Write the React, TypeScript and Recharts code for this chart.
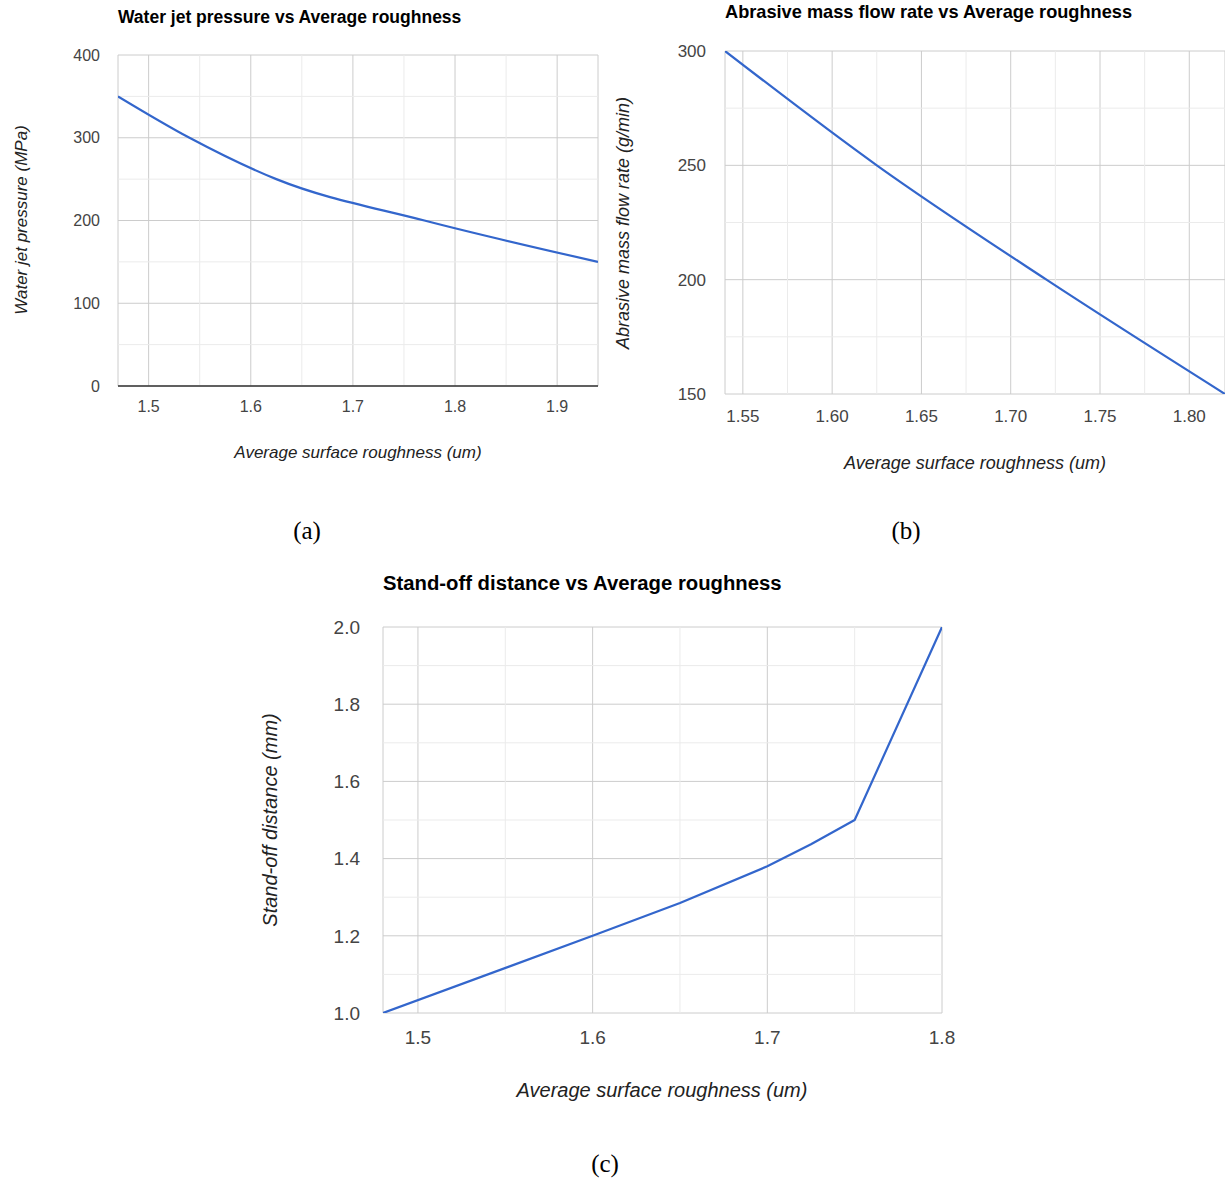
import React from "react";
import { CartesianGrid, Line, LineChart, ReferenceLine, XAxis, YAxis } from "recharts";

// (a) water jet pressure
const pressureRoughness = [1.47, 1.54, 1.625, 1.77, 1.94];
const pressureValues = [350, 300, 250, 200, 150];
const pressureXTicks = [1.5, 1.6, 1.7, 1.8, 1.9];
const pressureXMinor = [1.55, 1.65, 1.75, 1.85];
const pressureYTicks = [0, 100, 200, 300, 400];
const pressureYMinor = [50, 150, 250, 350];

// (b) abrasive mass flow rate
const abrasiveRoughness = [1.54, 1.625, 1.72, 1.82];
const abrasiveValues = [300, 250, 200, 150];
const abrasiveXTicks = [1.55, 1.6, 1.65, 1.7, 1.75, 1.8];
const abrasiveXMinor = [1.575, 1.625, 1.675, 1.725, 1.775];
const abrasiveYTicks = [150, 200, 250, 300];
const abrasiveYMinor = [175, 225, 275];

// (c) stand-off distance
const standoffRoughness = [1.48, 1.6, 1.65, 1.7, 1.725, 1.75, 1.8];
const standoffValues = [1.0, 1.2, 1.285, 1.38, 1.437, 1.5, 2.0];
const standoffXTicks = [1.5, 1.6, 1.7, 1.8];
const standoffXMinor = [1.55, 1.65, 1.75];
const standoffYTicks = [1.0, 1.2, 1.4, 1.6, 1.8, 2.0];
const standoffYMinor = [1.1, 1.3, 1.5, 1.7, 1.9];

const BLUE = "#3366cc";
const MAJOR = "#cccccc";
const MINOR = "#ebebeb";
const FONT = "Arial, 'Liberation Sans', sans-serif";

type PanelProps = {
  left: number;
  top: number;
  width: number;
  height: number;
  margin: { top: number; right: number; bottom: number; left: number };
  yWidth: number;
  xs: number[];
  ys: number[];
  xDomain: [number, number];
  yDomain: [number, number];
  xTicks: number[];
  xMinor: number[];
  yTicks: number[];
  yMinor: number[];
  xDigits: number;
  yDigits: number;
  fontSize: number;
  yTickGap: number;
  xTickGap: number;
  curve: "monotone" | "linear";
  darkBaseline?: boolean;
};

function Panel(p: PanelProps) {
  const data = p.xs.map((x, i) => ({ x, y: p.ys[i] }));
  const tick = { fontSize: p.fontSize, fill: "#444", fontFamily: FONT };
  return (
    <div style={{ position: "absolute", left: p.left, top: p.top }}>
      <LineChart width={p.width} height={p.height} data={data} margin={p.margin}>
        <CartesianGrid stroke={MAJOR} />
        {p.xMinor.map((v) => (
          <ReferenceLine key={"vx" + v} x={v} stroke={MINOR} />
        ))}
        {p.yMinor.map((v) => (
          <ReferenceLine key={"vy" + v} y={v} stroke={MINOR} />
        ))}
        {p.darkBaseline && <ReferenceLine y={p.yDomain[0]} stroke="#333" strokeWidth={1.5} />}
        <XAxis
          dataKey="x"
          type="number"
          domain={p.xDomain}
          ticks={p.xTicks}
          allowDataOverflow
          axisLine={false}
          tickLine={false}
          tickSize={0}
          tickMargin={p.xTickGap}
          height={30}
          tick={tick}
          tickFormatter={(v: number) => v.toFixed(p.xDigits)}
        />
        <YAxis
          type="number"
          domain={p.yDomain}
          ticks={p.yTicks}
          allowDataOverflow
          axisLine={false}
          tickLine={false}
          tickSize={0}
          tickMargin={p.yTickGap}
          width={p.yWidth}
          tick={tick}
          tickFormatter={(v: number) => v.toFixed(p.yDigits)}
        />
        <Line
          type={p.curve}
          dataKey="y"
          stroke={BLUE}
          strokeWidth={2.2}
          strokeLinejoin="round"
          dot={false}
          isAnimationActive={false}
        />
      </LineChart>
    </div>
  );
}

function Title({ text, left, top, size }: { text: string; left: number; top: number; size: number }) {
  return (
    <div
      style={{
        position: "absolute",
        left,
        top,
        fontFamily: FONT,
        fontWeight: "bold",
        fontSize: size,
        color: "#000",
        whiteSpace: "nowrap",
        lineHeight: 1,
        transform: "translateY(-50%)",
      }}
    >
      {text}
    </div>
  );
}

function AxisTitle({ text, cx, cy, size, vertical }: { text: string; cx: number; cy: number; size: number; vertical?: boolean }) {
  return (
    <div
      style={{
        position: "absolute",
        left: cx,
        top: cy,
        fontFamily: FONT,
        fontStyle: "italic",
        fontSize: size,
        color: "#222",
        whiteSpace: "nowrap",
        lineHeight: 1,
        transform: `translate(-50%, -50%)${vertical ? " rotate(-90deg)" : ""}`,
      }}
    >
      {text}
    </div>
  );
}

function Caption({ text, cx, cy }: { text: string; cx: number; cy: number }) {
  return (
    <div
      style={{
        position: "absolute",
        left: cx,
        top: cy,
        fontFamily: "'Liberation Serif', 'Times New Roman', serif",
        fontSize: 25,
        color: "#000",
        lineHeight: 1,
        transform: "translate(-50%, -50%)",
      }}
    >
      {text}
    </div>
  );
}

export default function App() {
  return (
    <div
      style={{
        position: "absolute",
        left: 0,
        top: 0,
        width: 1225,
        height: 1180,
        background: "#fff",
        overflow: "hidden",
      }}
    >
      <Panel
        left={0}
        top={0}
        width={610}
        height={480}
        margin={{ top: 55, right: 12, bottom: 64, left: 0 }}
        yWidth={118}
        xs={pressureRoughness}
        ys={pressureValues}
        xDomain={[1.47, 1.94]}
        yDomain={[0, 400]}
        xTicks={pressureXTicks}
        xMinor={pressureXMinor}
        yTicks={pressureYTicks}
        yMinor={pressureYMinor}
        xDigits={1}
        yDigits={0}
        fontSize={16}
        yTickGap={18}
        xTickGap={15}
        curve="monotone"
        darkBaseline
      />
      <Title text="Water jet pressure vs Average roughness" left={118} top={18} size={17.5} />
      <AxisTitle text="Average surface roughness (um)" cx={358} cy={452} size={17} />
      <AxisTitle text="Water jet pressure (MPa)" cx={21} cy={220} size={17} vertical />
      <Caption text="(a)" cx={307} cy={530} />

      <Panel
        left={610}
        top={0}
        width={615}
        height={480}
        margin={{ top: 51, right: 0, bottom: 56, left: 0 }}
        yWidth={115}
        xs={abrasiveRoughness}
        ys={abrasiveValues}
        xDomain={[1.54, 1.82]}
        yDomain={[150, 300]}
        xTicks={abrasiveXTicks}
        xMinor={abrasiveXMinor}
        yTicks={abrasiveYTicks}
        yMinor={abrasiveYMinor}
        xDigits={2}
        yDigits={0}
        fontSize={17}
        yTickGap={19}
        xTickGap={16}
        curve="monotone"
      />
      <Title text="Abrasive mass flow rate vs Average roughness" left={725} top={12} size={18.2} />
      <AxisTitle text="Average surface roughness (um)" cx={975} cy={463} size={18} />
      <AxisTitle text="Abrasive mass flow rate (g/min)" cx={623} cy={223} size={18} vertical />
      <Caption text="(b)" cx={906} cy={530} />

      <Panel
        left={250}
        top={560}
        width={720}
        height={540}
        margin={{ top: 67, right: 28, bottom: 57, left: 0 }}
        yWidth={133}
        xs={standoffRoughness}
        ys={standoffValues}
        xDomain={[1.48, 1.8]}
        yDomain={[1.0, 2.0]}
        xTicks={standoffXTicks}
        xMinor={standoffXMinor}
        yTicks={standoffYTicks}
        yMinor={standoffYMinor}
        xDigits={1}
        yDigits={1}
        fontSize={19}
        yTickGap={23}
        xTickGap={18}
        curve="linear"
      />
      <Title text="Stand-off distance vs Average roughness" left={383} top={583} size={20.3} />
      <AxisTitle text="Average surface roughness (um)" cx={662} cy={1090} size={20} />
      <AxisTitle text="Stand-off distance (mm)" cx={270} cy={820} size={20} vertical />
      <Caption text="(c)" cx={605} cy={1163} />
    </div>
  );
}
